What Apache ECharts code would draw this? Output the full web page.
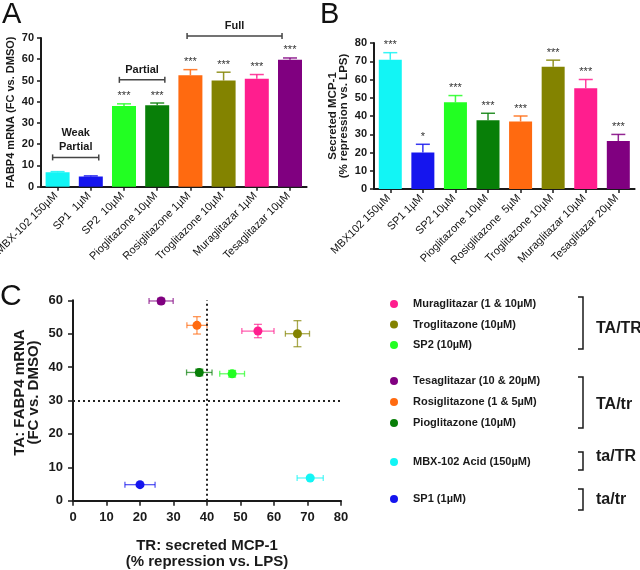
<!DOCTYPE html>
<html><head><meta charset="utf-8">
<script src="https://cdn.jsdelivr.net/npm/echarts/dist/echarts.min.js"></script>
<style>html,body{margin:0;padding:0;background:#fff}#c{width:640px;height:570px}</style>
</head><body><div id="c"></div>
<script>
// ---------- data ----------
const catA = ['MBX-102 150µM','SP1  1µM','SP2  10µM','Pioglitazone 10µM','Rosiglitazone 1µM','Troglitazone 10µM','Muraglitazar 1µM','Tesaglitazar 10µM'];
const valA = [6.8, 4.8, 38.0, 38.4, 52.5, 50.0, 50.8, 59.8];
const errA = [0.3, 0.3, 1.0, 1.0, 2.6, 3.9, 2.0, 0.8];
const starsA = ['', '', '***', '***', '***', '***', '***', '***'];

const catB = ['MBX102 150µM','SP1 1µM','SP2 10µM','Pioglitazone 10µM','Rosiglitazone  5µM','Troglitazone 10µM','Muraglitazar 10µM','Tesaglitazar 20µM'];
const valB = [70.8, 20.0, 47.5, 37.7, 37.0, 67.0, 55.2, 26.3];
const errB = [3.9, 4.5, 3.7, 3.8, 3.0, 3.6, 4.8, 3.6];
const starsB = ['***', '*', '***', '***', '***', '***', '***', '***'];

const bracketLabels = ['Weak\nPartial', 'Partial', 'Full'];
const bracketFrom = [-0.15, 1.86, 3.9];
const bracketTo = [1.24, 3.23, 6.76];
const bracketLevel = [13.8, 50.3, 70.9];

const legendNames = ['MBX-102 Acid (150µM)','SP1 (1µM)','SP2 (10µM)','Pioglitazone (10µM)','Rosiglitazone (1 & 5µM)','Troglitazone (10µM)','Muraglitazar (1 & 10µM)','Tesaglitazar (10 & 20µM)'];
const legendGroups = [[6, 5, 2], [7, 4, 3], [0], [1]];
const groupLabels = ['TA/TR', 'TA/tr', 'ta/TR', 'ta/tr'];
const thresholdTR = 40;
const thresholdTA = 30;
const ticksA = {max: 70, interval: 10};
const ticksB = {max: 80, interval: 10};
const ticksCx = {max: 80, interval: 10};
const ticksCy = {max: 60, interval: 10};

// ---------- styles ----------
const colors = ['#12F5F5', '#1515EE', '#22FF22', '#087F08', '#FF6A10', '#838300', '#FF1E8E', '#800080'];
const FONT = 'Liberation Sans, Arial, Helvetica, sans-serif';
const INK = '#1a1a1a';

const chart = echarts.init(document.getElementById('c'));

function barErr(vals, errs, stars) {
  return function (params, api) {
    const i = params.dataIndex;
    const base = api.coord([i, vals[i]]);
    const top = api.coord([i, vals[i] + errs[i]]);
    const st = {stroke: colors[i], lineWidth: 1.5, opacity: 0.85};
    const ch = [
      {type: 'line', shape: {x1: base[0], y1: base[1], x2: top[0], y2: top[1]}, style: st},
      {type: 'line', shape: {x1: top[0] - 7, y1: top[1], x2: top[0] + 7, y2: top[1]}, style: st}
    ];
    if (stars[i]) ch.push({type: 'text', style: {text: stars[i], x: top[0], y: top[1] - 2, align: 'center', verticalAlign: 'bottom', fontSize: 11, fontFamily: FONT, fill: '#333'}});
    return {type: 'group', children: ch};
  };
}

function bracketRender(params, api) {
  const i = params.dataIndex;
  const c0 = api.coord([0, bracketLevel[i]]);
  const band = api.coord([1, 0])[0] - api.coord([0, 0])[0];
  const x0 = c0[0] + bracketFrom[i] * band;
  const x1 = c0[0] + bracketTo[i] * band;
  const y = c0[1];
  const st = {stroke: '#444', lineWidth: 1.5};
  return {type: 'group', children: [
    {type: 'line', shape: {x1: x0, y1: y, x2: x1, y2: y}, style: st},
    {type: 'line', shape: {x1: x0, y1: y - 3, x2: x0, y2: y + 3}, style: st},
    {type: 'line', shape: {x1: x1, y1: y - 3, x2: x1, y2: y + 3}, style: st},
    {type: 'text', style: {text: bracketLabels[i], x: (x0 + x1) / 2, y: y - 3, align: 'center', verticalAlign: 'bottom', fontSize: 11, fontWeight: 'bold', fontFamily: FONT, fill: INK, lineHeight: 14}}
  ]};
}

function scatterErr(params, api) {
  const i = params.dataIndex;
  const x = valB[i], y = valA[i];
  const l = api.coord([x - errB[i], y]), r = api.coord([x + errB[i], y]);
  const b = api.coord([x, y - errA[i]]), t = api.coord([x, y + errA[i]]);
  const st = {stroke: colors[i], lineWidth: 1.3, opacity: 0.7};
  return {type: 'group', children: [
    {type: 'line', shape: {x1: l[0], y1: l[1], x2: r[0], y2: r[1]}, style: st},
    {type: 'line', shape: {x1: l[0], y1: l[1] - 3, x2: l[0], y2: l[1] + 3}, style: st},
    {type: 'line', shape: {x1: r[0], y1: r[1] - 3, x2: r[0], y2: r[1] + 3}, style: st},
    {type: 'line', shape: {x1: b[0], y1: b[1], x2: t[0], y2: t[1]}, style: st},
    {type: 'line', shape: {x1: b[0] - 4, y1: b[1], x2: b[0] + 4, y2: b[1]}, style: st},
    {type: 'line', shape: {x1: t[0] - 4, y1: t[1], x2: t[0] + 4, y2: t[1]}, style: st}
  ]};
}

const axisLineStyle = {show: true, lineStyle: {color: INK, width: 2}};
const tickStyle = {show: true, length: 4, lineStyle: {color: INK, width: 1.5}};
const valLabel = (size) => ({fontSize: size, fontWeight: 'bold', color: INK, fontFamily: FONT});

const legendTops = [297, 374, 455, 492];
const legendGaps = [6.5, 7, 7, 7];
const legends = legendGroups.map((g, k) => ({
  orient: 'vertical', left: 390, top: legendTops[k], padding: 0, itemGap: legendGaps[k],
  icon: 'circle', itemWidth: 22, itemHeight: 8, selectedMode: false,
  data: g.map(i => legendNames[i]),
  textStyle: {fontSize: 11, fontWeight: 'bold', color: INK, fontFamily: FONT, lineHeight: 14, padding: [0, 0, 0, 3]}
}));

const brackets = [[297, 349], [377, 428], [452, 470], [489, 510]];
const labelY = [329, 405, 457, 500];
const graphics = [
  {type: 'text', left: 2, top: 0, style: {text: 'A', fontSize: 29, fontFamily: FONT, fill: '#111'}},
  {type: 'text', left: 320, top: 0, style: {text: 'B', fontSize: 29, fontFamily: FONT, fill: '#111'}},
  {type: 'text', left: 0, top: 282, style: {text: 'C', fontSize: 30, fontFamily: FONT, fill: '#111'}}
];
brackets.forEach((b, k) => {
  graphics.push({type: 'polyline', shape: {points: [[578, b[0]], [583, b[0]], [583, b[1]], [578, b[1]]]}, style: {stroke: INK, lineWidth: 1.5, fill: null}});
  graphics.push({type: 'text', x: 596, y: labelY[k], style: {text: groupLabels[k], fontSize: 16, fontWeight: 'bold', fontFamily: FONT, fill: INK, verticalAlign: 'middle'}});
});

const scatterSeries = legendNames.map((n, i) => ({
  type: 'scatter', name: n, xAxisIndex: 2, yAxisIndex: 2, symbolSize: 9,
  itemStyle: {color: colors[i], opacity: 1}, z: 5,
  data: [[valB[i], valA[i]]],
  markLine: i === 0 ? {
    silent: true, symbol: 'none', label: {show: false},
    lineStyle: {color: '#222', type: [2, 3], width: 2},
    data: [{xAxis: thresholdTR}, {yAxis: thresholdTA}]
  } : undefined
}));

const catLabel = {rotate: 45, interval: 0, fontSize: 11, color: '#111', margin: 6, fontFamily: FONT, padding: [22, 2, 0, 0]};

chart.setOption({
  animation: false,
  textStyle: {fontFamily: FONT},
  graphic: graphics,
  legend: legends,
  grid: [
    {left: 41, top: 38, width: 265.6, height: 148.7, outerBoundsMode: 'none'},
    {left: 374, top: 43, width: 260.6, height: 146, outerBoundsMode: 'none'},
    {left: 73, top: 300.3, width: 268, height: 200.4, outerBoundsMode: 'none'}
  ],
  xAxis: [
    {gridIndex: 0, type: 'category', data: catA, axisLine: axisLineStyle,
     axisTick: {show: true, alignWithLabel: true, length: 4, lineStyle: {color: INK, width: 1.5}},
     axisLabel: catLabel},
    {gridIndex: 1, type: 'category', data: catB, axisLine: axisLineStyle,
     axisTick: {show: true, alignWithLabel: true, length: 4, lineStyle: {color: INK, width: 1.5}},
     axisLabel: catLabel},
    {gridIndex: 2, type: 'value', min: 0, max: ticksCx.max, interval: ticksCx.interval,
     axisLine: axisLineStyle, axisTick: {show: true, length: 5, lineStyle: {color: INK, width: 1.5}},
     splitLine: {show: false}, axisLabel: Object.assign(valLabel(13), {margin: 10}),
     name: 'TR: secreted MCP-1\n(% repression vs. LPS)', nameLocation: 'middle', nameGap: 37,
     nameTextStyle: {fontSize: 15, fontWeight: 'bold', color: INK, lineHeight: 16, fontFamily: FONT}}
  ],
  yAxis: [
    {gridIndex: 0, type: 'value', min: 0, max: ticksA.max, interval: ticksA.interval,
     axisLine: axisLineStyle, axisTick: tickStyle, splitLine: {show: false},
     axisLabel: Object.assign(valLabel(11), {margin: 7}),
     name: 'FABP4 mRNA (FC vs. DMSO)', nameLocation: 'middle', nameGap: 25,
     nameTextStyle: {fontSize: 11, fontWeight: 'bold', color: INK, fontFamily: FONT}},
    {gridIndex: 1, type: 'value', min: 0, max: ticksB.max, interval: ticksB.interval,
     axisLine: axisLineStyle, axisTick: tickStyle, splitLine: {show: false},
     axisLabel: Object.assign(valLabel(11), {margin: 7}),
     name: 'Secreted MCP-1\n(% repression vs. LPS)', nameLocation: 'middle', nameGap: 25,
     nameTextStyle: {fontSize: 11.5, fontWeight: 'bold', color: INK, lineHeight: 11, fontFamily: FONT}},
    {gridIndex: 2, type: 'value', min: 0, max: ticksCy.max, interval: ticksCy.interval,
     axisLine: axisLineStyle, axisTick: {show: true, length: 5, lineStyle: {color: INK, width: 1.5}},
     splitLine: {show: false}, axisLabel: Object.assign(valLabel(13), {margin: 10}),
     name: 'TA: FABP4 mRNA\n(FC vs. DMSO)', nameLocation: 'middle', nameGap: 32,
     nameTextStyle: {fontSize: 15, fontWeight: 'bold', color: INK, lineHeight: 14, fontFamily: FONT, padding: [0, 0, 0, 16]}}
  ],
  series: [
    {type: 'bar', xAxisIndex: 0, yAxisIndex: 0, barWidth: 24,
     data: valA.map((v, i) => ({value: v, itemStyle: {color: colors[i]}}))},
    {type: 'custom', xAxisIndex: 0, yAxisIndex: 0, renderItem: barErr(valA, errA, starsA),
     data: valA.map((v, i) => [i, v + errA[i]]), z: 3},
    {type: 'custom', xAxisIndex: 0, yAxisIndex: 0, renderItem: bracketRender,
     data: bracketLevel.map(l => [0, l]), z: 3},
    {type: 'bar', xAxisIndex: 1, yAxisIndex: 1, barWidth: 23,
     data: valB.map((v, i) => ({value: v, itemStyle: {color: colors[i]}}))},
    {type: 'custom', xAxisIndex: 1, yAxisIndex: 1, renderItem: barErr(valB, errB, starsB),
     data: valB.map((v, i) => [i, v + errB[i]]), z: 3},
    {type: 'custom', xAxisIndex: 2, yAxisIndex: 2, renderItem: scatterErr,
     data: valB.map((v, i) => [v, valA[i]]), z: 4}
  ].concat(scatterSeries)
});
</script>
</body></html>
